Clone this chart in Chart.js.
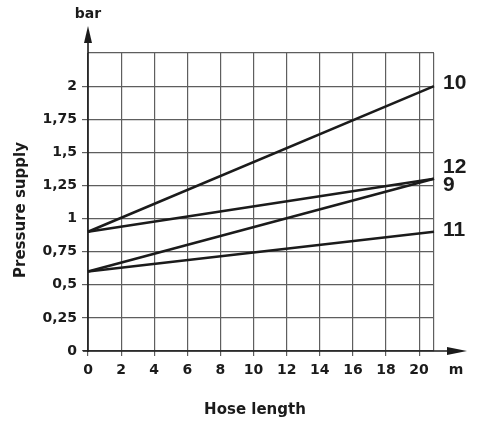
<!DOCTYPE html>
<html>
<head>
<meta charset="utf-8">
<script src="https://cdn.jsdelivr.net/npm/chart.js@4/dist/chart.umd.min.js"></script>
<style>
  html, body { margin: 0; padding: 0; background: #fff; }
  #wrap { width: 484px; height: 421px; }
</style>
</head>
<body>
<div id="wrap"><canvas id="chart" width="484" height="421"></canvas></div>
<script>
// hose length (m) at the two ends of each curve
const hoseLength = [0, 20.9];
// pressure supply (bar) per curve
const curve10 = [0.9, 2.0];
const curve12 = [0.9, 1.3];
const curve9 = [0.6, 1.3];
const curve11 = [0.6, 0.9];
const curveNames = ["10", "12", "9", "11"];

const xTicks = [0, 2, 4, 6, 8, 10, 12, 14, 16, 18, 20];
const xMax = 20.9;
const yTicks = [0, 0.25, 0.5, 0.75, 1, 1.25, 1.5, 1.75, 2];
const yTickLabels = ["0", "0,25", "0,5", "0,75", "1", "1,25", "1,5", "1,75", "2"];
const yMax = 2.25;

(function () {
  const TICK_FONT = { family: "'DejaVu Sans', sans-serif", size: 14, weight: "bold" };
  const GRID = "#5e5e5e";
  const INK = "#1b1b1b";

  function toPoints(ys) {
    return ys.map((y, i) => ({ x: hoseLength[i], y: y }));
  }

  const series = [curve10, curve12, curve9, curve11];
  // label offsets from the right end of each curve (px)
  const labelShift = { "10": -3, "12": -12, "9": 6, "11": -2 };

  const decorations = {
    id: "decorations",
    afterDraw(chart) {
      const ctx = chart.ctx;
      const xs = chart.scales.x;
      const ys = chart.scales.y;
      const x0 = xs.getPixelForValue(0);
      const y0 = ys.getPixelForValue(0);
      ctx.save();
      ctx.strokeStyle = INK;
      ctx.fillStyle = INK;
      ctx.lineWidth = 1.6;

      // y axis + arrow
      ctx.beginPath();
      ctx.moveTo(x0, y0 + 1);
      ctx.lineTo(x0, 40);
      ctx.stroke();
      ctx.beginPath();
      ctx.moveTo(x0, 26);
      ctx.lineTo(x0 - 4, 43);
      ctx.lineTo(x0 + 4, 43);
      ctx.closePath();
      ctx.fill();

      // x axis + arrow
      ctx.beginPath();
      ctx.moveTo(x0 - 5, y0);
      ctx.lineTo(450, y0);
      ctx.stroke();
      ctx.beginPath();
      ctx.moveTo(467, y0);
      ctx.lineTo(447, y0 - 4);
      ctx.lineTo(447, y0 + 4);
      ctx.closePath();
      ctx.fill();

      // units
      ctx.font = "bold 14px 'DejaVu Sans', sans-serif";
      ctx.textAlign = "center";
      ctx.textBaseline = "middle";
      ctx.fillText("bar", x0, 14);
      ctx.fillText("m", 456, 370);

      // axis titles
      ctx.font = "bold 15px 'DejaVu Sans', sans-serif";
      ctx.fillText("Hose length", 255, 410);
      ctx.save();
      ctx.translate(21, 210);
      ctx.rotate(-Math.PI / 2);
      ctx.fillText("Pressure supply", 0, 0);
      ctx.restore();

      // curve numbers
      ctx.font = "bold 21px 'Liberation Sans', Arial, sans-serif";
      ctx.textAlign = "left";
      series.forEach((ys_, i) => {
        const name = curveNames[i];
        const px = xs.getPixelForValue(hoseLength[hoseLength.length - 1]) + 9;
        const py = ys.getPixelForValue(ys_[ys_.length - 1]) + labelShift[name];
        ctx.fillText(name, px, py);
      });
      ctx.restore();
    },
  };

  new Chart(document.getElementById("chart"), {
    type: "scatter",
    data: {
      datasets: series.map((s, i) => ({
        label: curveNames[i],
        data: toPoints(s),
        showLine: true,
        borderColor: INK,
        borderWidth: 2.6,
        pointRadius: 0,
        tension: 0,
        clip: false,
      })),
    },
    options: {
      responsive: false,
      animation: false,
      layout: { padding: { left: 0, right: 50, top: 53, bottom: 0 } },
      plugins: { legend: { display: false }, tooltip: { enabled: false } },
      scales: {
        x: {
          type: "linear",
          min: 0,
          max: xMax,
          afterBuildTicks: (scale) => {
            scale.ticks = xTicks.concat([xMax]).map((v) => ({ value: v }));
          },
          afterFit: (scale) => {
            scale.height = 70;
          },
          border: { display: false },
          grid: {
            color: GRID,
            lineWidth: 1.2,
            tickLength: 5,
            tickColor: (c) => (c.tick && c.tick.value === xMax ? "rgba(0,0,0,0)" : GRID),
          },
          ticks: {
            autoSkip: false,
            maxRotation: 0,
            padding: 6,
            color: INK,
            font: TICK_FONT,
            callback: (v) => (xTicks.includes(v) ? String(v) : ""),
          },
        },
        y: {
          type: "linear",
          min: 0,
          max: yMax,
          afterBuildTicks: (scale) => {
            scale.ticks = yTicks.concat([yMax]).map((v) => ({ value: v }));
          },
          afterFit: (scale) => {
            scale.width = 88;
          },
          border: { display: false },
          grid: {
            color: GRID,
            lineWidth: 1.2,
            tickLength: 6,
            tickColor: (c) => (c.tick && c.tick.value === yMax ? "rgba(0,0,0,0)" : GRID),
          },
          ticks: {
            autoSkip: false,
            padding: 5,
            color: INK,
            font: TICK_FONT,
            callback: (v) => {
              const i = yTicks.indexOf(v);
              return i >= 0 ? yTickLabels[i] : "";
            },
          },
        },
      },
    },
    plugins: [decorations],
  });
})();
</script>
</body>
</html>
